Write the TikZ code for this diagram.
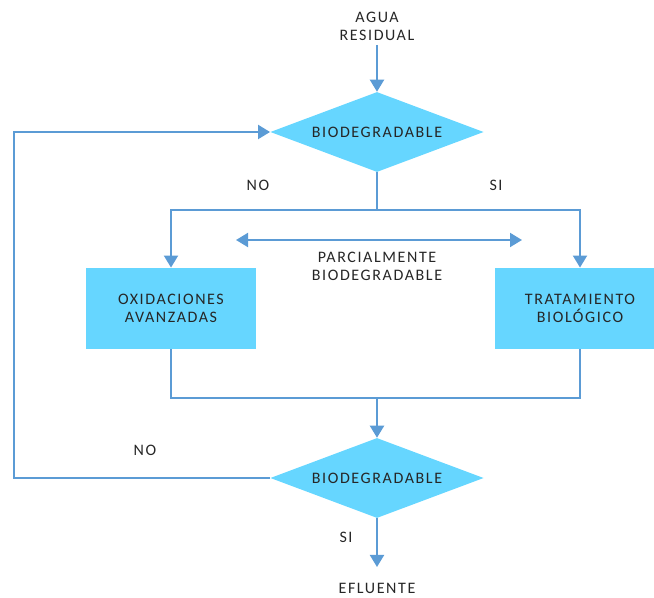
\documentclass[tikz,border=0pt]{standalone}
\usepackage{fontspec}
\setmainfont{Carlito}[LetterSpace=10]
\usetikzlibrary{shapes.geometric,arrows.meta}
\definecolor{flowblue}{RGB}{91,155,213}
\definecolor{boxcyan}{RGB}{102,214,255}
\definecolor{txtgray}{RGB}{38,38,38}
\begin{document}
\begin{tikzpicture}[
		x=0.75pt,y=-0.75pt,
		>={Triangle[width=10.5pt,length=9pt]},
		line join=miter,
		flow/.style={draw=flowblue,line width=1.5pt},
		lbl/.style={text=txtgray,align=center,font=\fontsize{12}{13.5}\selectfont},
		decision/.style={lbl,diamond,fill=boxcyan,inner sep=0pt,aspect=2.66,minimum width=160pt,minimum height=60pt},
		process/.style={lbl,rectangle,fill=boxcyan,inner sep=0pt,minimum width=128pt,minimum height=61pt}
		]
		\useasboundingbox (0,0) rectangle (654,598);
		% shapes
		\node[lbl] (agua) at (377,26) {AGUA\\RESIDUAL};
		\node[decision] (bio1) at (377,132) {BIODEGRADABLE};
		\node[process] (oxi) at (171,308.5) {OXIDACIONES\\AVANZADAS};
		\node[process] (trat) at (580,308.5) {TRATAMIENTO\\BIOLÓGICO};
		\node[decision] (bio2) at (377,478) {BIODEGRADABLE};
		\node[lbl] (efl) at (377,588) {EFLUENTE};
		% labels
		\node[lbl] (parc) at (377,266) {PARCIALMENTE\\BIODEGRADABLE};
		\node[lbl] (no1) at (258,185) {NO};
		\node[lbl] (si1) at (496,185) {SI};
		\node[lbl] (no2) at (145,450) {NO};
		\node[lbl] (si2) at (346,537) {SI};
		\coordinate (split) at (377,210);
		\coordinate (merge) at (377,398);
		\coordinate (loop) at (14,478);
		\coordinate (pl) at (236,240);
		\coordinate (pr) at (522,240);
		\coordinate (out) at (377,567);
		% connectors
		\begin{scope}[flow]
		\draw[->] (agua.south) -- (bio1.north);
		\draw (bio1.south) -- (split);
		\draw[->] (split) -| (oxi.north);
		\draw[->] (split) -| (trat.north);
		\draw[<->] (pl) -- (pr);
		\draw (oxi.south) |- (merge);
		\draw (trat.south) |- (merge);
		\draw[->] (merge) -- (bio2.north);
		\draw[->] (bio2.west) -- (loop) |- (bio1.west);
		\draw[->] (bio2.south) -- (out);
		\end{scope}
		\end{tikzpicture}
\end{document}
